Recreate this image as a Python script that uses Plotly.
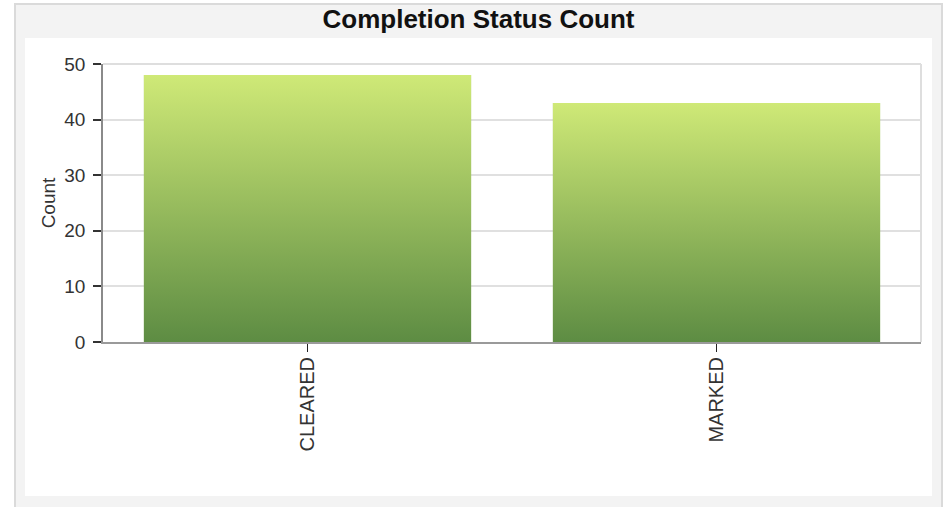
import plotly.graph_objects as go

categories = ["CLEARED", "MARKED"]
counts = [48, 43]
y_ticks = [0, 10, 20, 30, 40, 50]

title_text = "Completion Status Count"
y_title = "Count"

top_color = "#cfe977"
bottom_color = "#5d8c43"
bar_width = 0.8

x_pos = list(range(len(categories)))

# figure geometry (page body margin removed in post_script)
W, H = 951, 507
L, R, T, B = 103, 30, 64, 165
pw, ph = W - L - R, H - T - B


def fx(px):
    return (px - L) / pw


def fy(py):
    return (H - B - py) / ph


fig = go.Figure()

fig.add_trace(go.Bar(
    x=x_pos, y=counts, width=bar_width,
    marker=dict(color="#93bb5e", line=dict(width=0)),
    hovertext=categories, showlegend=False,
))

for xi, v in zip(x_pos, counts):
    h = bar_width / 2
    fig.add_trace(go.Scatter(
        x=[xi - h, xi + h, xi + h, xi - h, xi - h],
        y=[0, 0, v, v, 0],
        mode="lines", line=dict(width=0),
        fill="toself",
        fillgradient=dict(type="vertical",
                          colorscale=[[0, bottom_color], [1, top_color]],
                          start=0, stop=v),
        hoverinfo="skip", showlegend=False,
    ))

fig.update_layout(
    width=W, height=H,
    paper_bgcolor="white", plot_bgcolor="white",
    margin=dict(l=L, r=R, t=T, b=B),
    title=dict(text="<b>" + title_text + "</b>", x=(15 + 942) / 2 / W, xanchor="center",
               xref="container", y=1 - 18.5 / H, yanchor="middle", yref="container",
               font=dict(family="Liberation Sans, Arial", size=26, color="#111")),
    font=dict(family="Liberation Sans, Arial", color="#333"),
    xaxis=dict(range=[-0.5, len(categories) - 0.5], tickmode="array",
               tickvals=x_pos, ticktext=categories, tickangle=-90,
               ticks="outside", ticklen=8, tickcolor="#222", tickwidth=1,
               ticklabelstandoff=-3,
               showgrid=False, showline=True, linecolor="#9a9a9a", linewidth=2,
               zeroline=False,
               tickfont=dict(size=20, color="#333")),
    yaxis=dict(range=[0, 50], tickmode="array", tickvals=y_ticks,
               ticks="outside", ticklen=8, tickcolor="#333", tickwidth=1.5,
               ticklabelstandoff=4,
               showgrid=True, gridcolor="#e0e0e0", gridwidth=1.5,
               showline=True, linecolor="#8a8a8a", linewidth=1.5,
               zeroline=False,
               title=dict(text=y_title, font=dict(size=19, color="#333"), standoff=4),
               tickfont=dict(size=19, color="#333")),
    shapes=[
        dict(type="rect", xref="paper", yref="paper",
             x0=fx(15), x1=fx(942), y0=fy(H + 10), y1=fy(4),
             fillcolor="#f3f3f3", line=dict(color="#dadada", width=2), layer="below"),
        dict(type="path", xref="paper", yref="paper",
             path="M {a},{d} L {b},{d} L {b},{c} L {a},{c} Z".format(
                 a=fx(25), b=fx(932), c=fy(496), d=fy(38)),
             fillcolor="white", line=dict(width=0), layer="below"),
        dict(type="line", xref="paper", yref="paper", x0=0, x1=1, y0=1, y1=1,
             line=dict(color="#dedede", width=2)),
        dict(type="line", xref="paper", yref="paper", x0=1, x1=1, y0=0, y1=1,
             line=dict(color="#dedede", width=2)),
    ],
)

fig.write_html("out.html",
               config={"displayModeBar": False},
               post_script="document.body.style.margin='0px';")
